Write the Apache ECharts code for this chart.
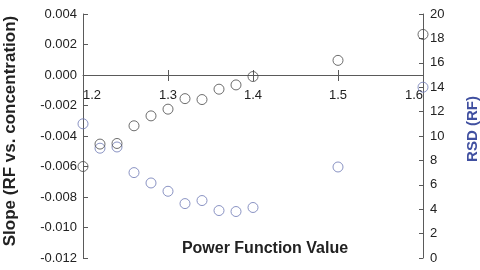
<!DOCTYPE html>
<html><head><meta charset="utf-8">
<script src="https://cdn.jsdelivr.net/npm/echarts@6/dist/echarts.min.js"></script>
<style>html,body{margin:0;padding:0;background:#fff}#c{width:480px;height:270px}</style>
</head><body><div id="c"></div>
<script>
const powerValues = [1.20,1.22,1.24,1.26,1.28,1.30,1.32,1.34,1.36,1.38,1.40,1.50,1.60];
const slopeValues = [-0.0060,-0.00453,-0.00449,-0.00333,-0.00268,-0.00224,-0.00155,-0.00161,-0.00093,-0.00065,-0.0001,0.00096,0.00266];
const rsdValues = [11.0,9.0,9.1,7.0,6.15,5.47,4.46,4.71,3.89,3.81,4.14,7.46,14.0];
const xTicks = ['1.2','1.3','1.4','1.5','1.6'];

const chart = echarts.init(document.getElementById('c'));
const FONT = '"Liberation Sans", Arial, Helvetica, sans-serif';
const axisCol = '#5a5a5a';
const slopeData = powerValues.map((p,i)=>[p, slopeValues[i]]);
const rsdData = powerValues.map((p,i)=>[p, rsdValues[i]]);
// the x axis sits on the slope zero line (grid bottom 258, zero at 75)
const X_OFFSET = -183;
chart.setOption({
  animation:false,
  textStyle:{fontFamily:FONT},
  grid:{left:83,right:57,top:14,bottom:12,containLabel:false,outerBoundsMode:'none'},
  xAxis:[{
    type:'value',min:1.2,max:1.6,interval:0.1,position:'bottom',offset:X_OFFSET,
    axisLine:{onZero:false,lineStyle:{color:axisCol,width:1}},
    axisTick:{show:true,inside:false,length:6,lineStyle:{color:axisCol}},
    axisLabel:{margin:14,fontSize:13,color:'#222',alignMinLabel:'left',alignMaxLabel:'right',
      formatter:v=>{const s=v.toFixed(1);return xTicks.includes(s)?s:'';}},
    splitLine:{show:false},
    name:'Power Function Value',nameLocation:'middle',nameGap:166,
    nameTextStyle:{fontSize:16,fontWeight:'bold',color:'#222',padding:[0,0,0,24]}
  },{
    type:'value',min:1.2,max:1.6,interval:0.1,position:'bottom',offset:X_OFFSET,
    axisLine:{show:false,onZero:false},
    axisTick:{show:true,inside:true,length:5,lineStyle:{color:axisCol}},
    axisLabel:{show:false},splitLine:{show:false}
  }],
  yAxis:[{
    type:'value',min:-0.012,max:0.004,interval:0.002,position:'left',
    axisLine:{show:true,onZero:false,lineStyle:{color:axisCol}},
    axisTick:{show:true,inside:true,length:5,lineStyle:{color:axisCol}},
    axisLabel:{margin:6,fontSize:13,color:'#222',formatter:v=>v.toFixed(3)},
    splitLine:{show:false},
    name:'Slope (RF vs. concentration)',nameLocation:'middle',nameRotate:90,nameGap:64,
    nameTextStyle:{fontSize:17,fontWeight:'bold',color:'#222',padding:[0,0,0,10]}
  },{
    type:'value',min:0,max:20,interval:2,position:'right',
    axisLine:{show:true,onZero:false,lineStyle:{color:axisCol}},
    axisTick:{show:true,inside:true,length:4,lineStyle:{color:axisCol}},
    axisLabel:{margin:7,fontSize:13,color:'#222'},
    splitLine:{show:false},
    name:'RSD (RF)',nameLocation:'middle',nameRotate:90,nameGap:42,
    nameTextStyle:{fontSize:15,fontWeight:'bold',color:'#4050a0',padding:[0,0,0,14]}
  }],
  series:[{
    type:'scatter',name:'RSD',xAxisIndex:0,yAxisIndex:1,data:rsdData,clip:false,
    symbol:'circle',symbolSize:10,
    itemStyle:{color:'rgba(0,0,0,0)',borderColor:'#6d78b4',borderWidth:1}
  },{
    type:'scatter',name:'Slope',xAxisIndex:0,yAxisIndex:0,data:slopeData,clip:false,
    symbol:'circle',symbolSize:10,
    itemStyle:{color:'rgba(0,0,0,0)',borderColor:'#484848',borderWidth:1}
  }]
});
</script></body></html>
